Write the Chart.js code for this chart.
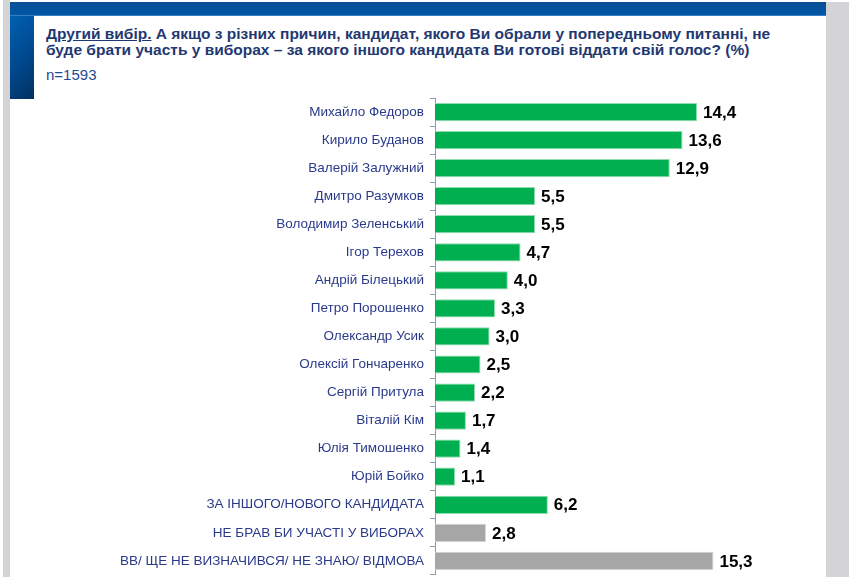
<!DOCTYPE html>
<html>
<head>
<meta charset="utf-8">
<script src="https://cdn.jsdelivr.net/npm/chart.js@4"></script>
<style>
  html, body { margin: 0; padding: 0; background: #ffffff; }
  body { width: 851px; height: 577px; position: relative; overflow: hidden; font-family: "Liberation Sans", Arial, sans-serif; }
  .strip-l { position: absolute; left: 3px; top: 0; width: 7px; height: 577px; background: #d4d4d6; }
  .strip-r { position: absolute; left: 826px; top: 2px; width: 23px; height: 575px; background: #d4d4d6; }
  .band { position: absolute; left: 10px; top: 2px; width: 816px; height: 14px;
          background: linear-gradient(to bottom, #0a4f96, #0058a6); border-bottom: 1px solid #3c7cc0; box-sizing: border-box; }
  .vbar { position: absolute; left: 10px; top: 16px; width: 24px; height: 83px;
          background: linear-gradient(135deg, #0060b0 0%, #00478c 55%, #003160 100%); }
  .title { position: absolute; left: 46px; top: 26px; color: #1f3872; font-size: 15.5px; font-weight: bold; line-height: 15.5px; white-space: nowrap; }
  .title u { text-decoration: underline; }
  .n { position: absolute; left: 46px; top: 67px; color: #1f4a96; font-size: 15px; line-height: 16px; }
  canvas { position: absolute; left: 0; top: 0; }
</style>
</head>
<body>
<div class="strip-l"></div>
<div class="strip-r"></div>
<div class="band"></div>
<div class="vbar"></div>
<div class="title"><u>Другий вибір.</u> А якщо з різних причин, кандидат, якого Ви обрали у попередньому питанні, не<br>буде брати участь у виборах – за якого іншого кандидата Ви готові віддати свій голос? (%)</div>
<div class="n">n=1593</div>
<canvas id="c" width="851" height="589"></canvas>
<script>
const categories = [
  "Михайло Федоров",
  "Кирило Буданов",
  "Валерій Залужний",
  "Дмитро Разумков",
  "Володимир Зеленський",
  "Ігор Терехов",
  "Андрій Білецький",
  "Петро Порошенко",
  "Олександр Усик",
  "Олексій Гончаренко",
  "Сергій Притула",
  "Віталій Кім",
  "Юлія Тимошенко",
  "Юрій Бойко",
  "ЗА ІНШОГО/НОВОГО КАНДИДАТА",
  "НЕ БРАВ БИ УЧАСТІ У ВИБОРАХ",
  "ВВ/ ЩЕ НЕ ВИЗНАЧИВСЯ/ НЕ ЗНАЮ/ ВІДМОВА"
];
const values = [14.4, 13.6, 12.9, 5.5, 5.5, 4.7, 4.0, 3.3, 3.0, 2.5, 2.2, 1.7, 1.4, 1.1, 6.2, 2.8, 15.3];
const isGray = [false,false,false,false,false,false,false,false,false,false,false,false,false,false,false,true,true];

const valueLabels = {
  id: 'valueLabels',
  afterDatasetsDraw(chart) {
    const ctx = chart.ctx;
    const meta = chart.getDatasetMeta(0);
    ctx.save();
    ctx.font = 'bold 17px "Liberation Sans", Arial, sans-serif';
    ctx.fillStyle = '#000000';
    ctx.textAlign = 'left';
    ctx.textBaseline = 'middle';
    meta.data.forEach((bar, i) => {
      const txt = values[i].toFixed(1).replace('.', ',');
      ctx.fillText(txt, bar.x + 6, bar.y + 1);
    });
    ctx.restore();
  }
};

new Chart(document.getElementById('c'), {
  type: 'bar',
  data: {
    labels: categories,
    datasets: [{
      data: values,
      backgroundColor: isGray.map(g => g ? '#a6a6a6' : '#00b050'),
      borderColor: isGray.map(g => g ? '#d2d2d2' : '#8fdcae'),
      borderWidth: 1,
      borderSkipped: 'left',
      categoryPercentage: 1,
      barPercentage: 0.65
    }]
  },
  options: {
    indexAxis: 'y',
    responsive: false,
    animation: false,
    layout: { padding: { top: 98, bottom: 6, left: 0, right: 52 } },
    plugins: { legend: { display: false }, tooltip: { enabled: false } },
    scales: {
      x: { display: false, min: 0, max: 20 },
      y: {
        afterFit(s) { s.width = 435; },
        grid: { drawOnChartArea: false, color: '#8a9bb5', tickLength: 5, offset: true },
        border: { display: true, color: '#8a9bb5', width: 1 },
        ticks: { color: '#2a3a8a', padding: 6, font: { family: '"Liberation Sans", Arial, sans-serif', size: 13.5 } }
      }
    }
  },
  plugins: [valueLabels]
});
</script>
</body>
</html>
